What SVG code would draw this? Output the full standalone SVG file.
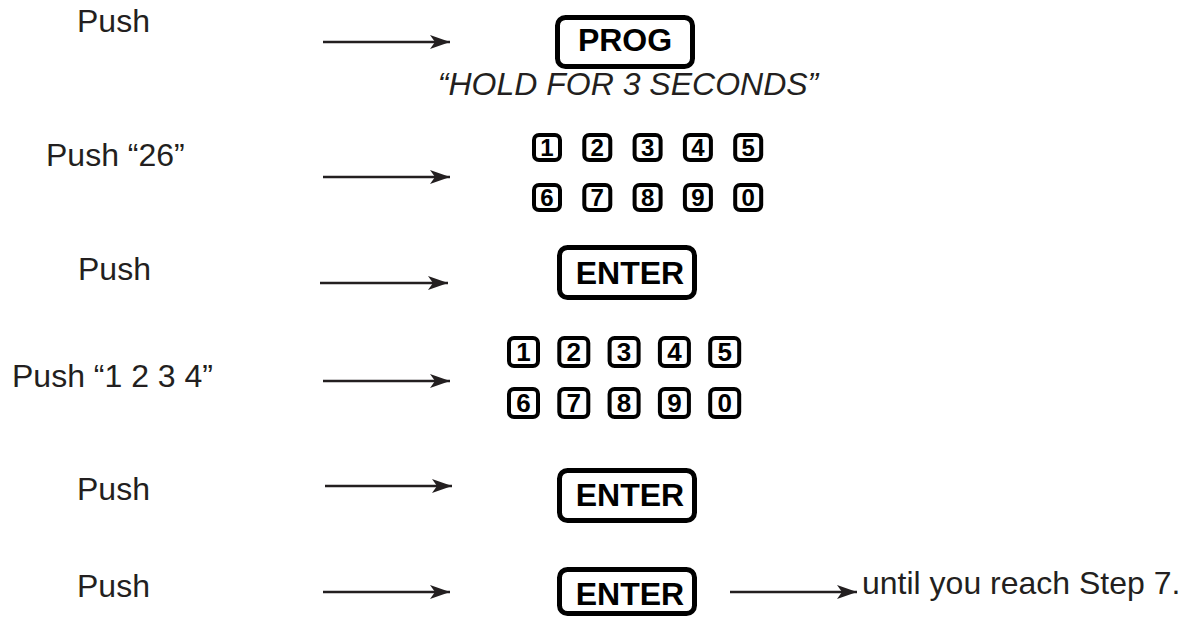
<svg xmlns="http://www.w3.org/2000/svg" width="1190" height="618" viewBox="0 0 1190 618">
<style>
.lbl{font-family:"Liberation Sans",Arial,sans-serif;font-size:32px;fill:#231f20}
.ital{font-family:"Liberation Sans",Arial,sans-serif;font-size:32px;font-style:italic;fill:#231f20}
.btn{fill:#fff;stroke:#000;stroke-width:5}
.btxt{font-family:"Liberation Sans",Arial,sans-serif;font-size:32px;font-weight:bold;fill:#000;text-anchor:middle}
.key{fill:#fff;stroke:#000;stroke-width:4}
.ktxt{font-family:"Liberation Sans",Arial,sans-serif;font-size:24px;font-weight:bold;fill:#000;text-anchor:middle}
.ktxt2{font-family:"Liberation Sans",Arial,sans-serif;font-size:26px;font-weight:bold;fill:#000;text-anchor:middle}
.arr{stroke:#231f20;stroke-width:2.5;fill:none;marker-end:url(#ah)}
</style>
<defs>
<marker id="ah" markerUnits="userSpaceOnUse" markerWidth="22" markerHeight="16" refX="20" refY="7" orient="auto">
<path d="M0,0 L20,7 L0,14 L5,7 Z" fill="#231f20"/>
</marker>
</defs>
<rect width="1190" height="618" fill="#fff"/>

<g id="labels">
<text class="lbl" x="77" y="32">Push</text>
<text class="lbl" x="46" y="166">Push “26”</text>
<text class="lbl" x="78" y="280">Push</text>
<text class="lbl" x="12" y="387">Push “1 2 3 4”</text>
<text class="lbl" x="77" y="500">Push</text>
<text class="lbl" x="77" y="597">Push</text>
</g>

<g id="prog">
<rect class="btn" x="557.5" y="17.5" width="135" height="49" rx="8"/>
<text class="btxt" x="625" y="51">PROG</text>
<text class="ital" x="628" y="95" text-anchor="middle">“HOLD FOR 3 SECONDS”</text>
</g>

<g id="keypad1">
<rect class="key" x="534" y="135" width="26" height="25" rx="5"/>
<rect class="key" x="584.3" y="135" width="26" height="25" rx="5"/>
<rect class="key" x="634.6" y="135" width="26" height="25" rx="5"/>
<rect class="key" x="684.9" y="135" width="26" height="25" rx="5"/>
<rect class="key" x="735.2" y="135" width="26" height="25" rx="5"/>
<rect class="key" x="534" y="185" width="26" height="25" rx="5"/>
<rect class="key" x="584.3" y="185" width="26" height="25" rx="5"/>
<rect class="key" x="634.6" y="185" width="26" height="25" rx="5"/>
<rect class="key" x="684.9" y="185" width="26" height="25" rx="5"/>
<rect class="key" x="735.2" y="185" width="26" height="25" rx="5"/>
<text class="ktxt" x="547" y="156">1</text>
<text class="ktxt" x="597.3" y="156">2</text>
<text class="ktxt" x="647.6" y="156">3</text>
<text class="ktxt" x="697.9" y="156">4</text>
<text class="ktxt" x="748.2" y="156">5</text>
<text class="ktxt" x="547" y="206">6</text>
<text class="ktxt" x="597.3" y="206">7</text>
<text class="ktxt" x="647.6" y="206">8</text>
<text class="ktxt" x="697.9" y="206">9</text>
<text class="ktxt" x="748.2" y="206">0</text>
</g>

<g id="enter1">
<rect class="btn" x="559.5" y="247.5" width="135" height="50" rx="8"/>
<text class="btxt" x="630" y="284">ENTER</text>
</g>

<g id="keypad2">
<rect class="key" x="509" y="338" width="29" height="28" rx="5"/>
<rect class="key" x="559.3" y="338" width="29" height="28" rx="5"/>
<rect class="key" x="609.6" y="338" width="29" height="28" rx="5"/>
<rect class="key" x="659.9" y="338" width="29" height="28" rx="5"/>
<rect class="key" x="710.2" y="338" width="29" height="28" rx="5"/>
<rect class="key" x="509" y="389" width="29" height="28" rx="5"/>
<rect class="key" x="559.3" y="389" width="29" height="28" rx="5"/>
<rect class="key" x="609.6" y="389" width="29" height="28" rx="5"/>
<rect class="key" x="659.9" y="389" width="29" height="28" rx="5"/>
<rect class="key" x="710.2" y="389" width="29" height="28" rx="5"/>
<text class="ktxt2" x="523.5" y="361">1</text>
<text class="ktxt2" x="573.8" y="361">2</text>
<text class="ktxt2" x="624.1" y="361">3</text>
<text class="ktxt2" x="674.4" y="361">4</text>
<text class="ktxt2" x="724.7" y="361">5</text>
<text class="ktxt2" x="523.5" y="412">6</text>
<text class="ktxt2" x="573.8" y="412">7</text>
<text class="ktxt2" x="624.1" y="412">8</text>
<text class="ktxt2" x="674.4" y="412">9</text>
<text class="ktxt2" x="724.7" y="412">0</text>
</g>

<g id="enter2">
<rect class="btn" x="559.5" y="470.5" width="135" height="50" rx="8"/>
<text class="btxt" x="630" y="506">ENTER</text>
</g>

<g id="enter3">
<rect class="btn" x="559.5" y="569.5" width="135" height="44" rx="8"/>
<text class="btxt" x="630" y="605">ENTER</text>
</g>

<g id="note">
<text class="lbl" x="862" y="594">until you reach Step 7.</text>
</g>

<g id="connectors">
<line class="arr" x1="323" y1="42" x2="450" y2="42"/>
<line class="arr" x1="323" y1="177" x2="450" y2="177"/>
<line class="arr" x1="320" y1="283" x2="448" y2="283"/>
<line class="arr" x1="323" y1="381" x2="450" y2="381"/>
<line class="arr" x1="325" y1="486" x2="452" y2="486"/>
<line class="arr" x1="323" y1="592" x2="450" y2="592"/>
<line class="arr" x1="730" y1="592" x2="857" y2="592"/>
</g>
</svg>
